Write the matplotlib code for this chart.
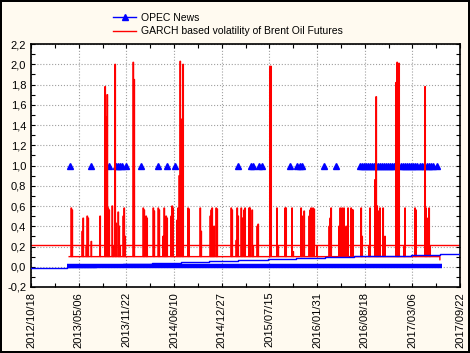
import numpy as np
import pandas as pd
import matplotlib
matplotlib.use("Agg")
import matplotlib.pyplot as plt
from matplotlib.lines import Line2D
from matplotlib.ticker import MultipleLocator, FuncFormatter

plt.rcParams['font.family'] = ['Liberation Sans', 'DejaVu Sans']

start = pd.Timestamp('2012-10-18')

# GARCH volatility spikes: days after start, value (baseline 0.1 otherwise)
spike_days = [168, 172, 214, 218, 231, 235, 239, 252, 289, 310, 314, 319, 323, 327,
              340, 344, 352, 356, 365, 369, 373, 386, 390, 394, 428, 432, 470, 474,
              482, 486, 512, 516, 533, 537, 553, 558, 562, 566, 570, 587, 591, 595,
              612, 616, 621, 625, 633, 637, 658, 662, 709, 713, 751, 755, 759, 763,
              767, 776, 780, 839, 843, 860, 864, 868, 881, 885, 893, 897, 914, 918,
              927, 931, 948, 952, 1002, 1006, 1031, 1036, 1065, 1069, 1094, 1099,
              1132, 1136, 1145, 1166, 1170, 1174, 1178, 1182, 1187, 1191, 1199,
              1250, 1254, 1258, 1291, 1296, 1304, 1312, 1321, 1329, 1342, 1346, 1350,
              1384, 1388, 1417, 1421, 1442, 1447, 1451, 1455, 1463, 1476, 1484,
              1530, 1535, 1539, 1543, 1564, 1568, 1610, 1614, 1652, 1656, 1660,
              1669, 1673]
spike_vals = [0.58, 0.56, 0.35, 0.48, 0.2, 0.5, 0.48, 0.25, 0.5, 1.78, 1.48, 1.70, 0.58, 0.56,
              0.6, 0.2, 2.0, 0.43, 0.54, 0.4, 0.2, 0.5, 0.58, 0.3, 2.02, 1.85, 0.58, 0.56,
              0.5, 0.48, 0.58, 0.55, 0.58, 0.56, 0.3, 0.58, 0.3, 0.5, 0.48, 0.5, 0.6, 0.58,
              0.46, 0.58, 0.9, 2.03, 1.46, 2.0, 0.58, 0.57, 0.58, 0.35, 0.5, 0.56, 0.58, 0.3,
              0.4, 0.58, 0.57, 0.58, 0.56, 0.26, 0.58, 0.5, 0.58, 0.48, 0.56, 0.58, 0.58, 0.58,
              0.56, 0.2, 0.4, 0.42, 1.98, 1.98, 0.58, 0.2, 0.58, 0.58, 0.58, 0.15,
              0.58, 0.5, 0.55, 0.5, 0.56, 0.58, 0.3, 0.58, 0.57, 0.1, 0.2,
              0.4, 0.48, 0.58, 0.4, 0.58, 0.58, 0.58, 0.4, 0.58, 0.58, 0.56, 0.56,
              0.58, 0.3, 0.2, 0.58, 0.86, 1.68, 0.6, 0.55, 0.58, 0.58, 0.3,
              1.82, 2.02, 1.74, 2.01, 0.2, 0.58, 0.58, 0.56, 1.78, 0.58, 0.48,
              0.58, 0.2]
garch_base = 0.1
garch_first, garch_last = 160, 1715
garch_end_val = 0.07
garch_mean = 0.21

# OPEC news days (value 1)
news_days = [164, 252, 327, 356, 365, 373, 382, 398, 461, 533, 570, 604, 868, 922, 931,
             956, 969, 1086, 1115, 1128, 1136, 1229, 1279,
             1380, 1388, 1396, 1405, 1413, 1421, 1430, 1438, 1447, 1455, 1463, 1472,
             1480, 1489, 1497, 1505, 1514, 1522,
             1551, 1560, 1568, 1577, 1585, 1593, 1602, 1610, 1618,
             1631, 1639, 1648, 1660, 1669, 1677, 1686, 1702]
news_zero_span = [151, 1723]

# slow blue step line
trend_days = [0, 151, 273, 386, 507, 629, 746, 868, 994, 1111, 1233, 1354, 1472, 1593, 1715, 1800]
trend_vals = [-0.015, 0.0, 0.015, 0.025, 0.035, 0.044, 0.054, 0.064, 0.072, 0.082, 0.092,
              0.103, 0.11, 0.12, 0.13, 0.13]

# build daily GARCH series
days = np.arange(garch_first, garch_last + 1)
g = pd.Series(garch_base, index=days)
for d, v in zip(spike_days, spike_vals):
    g.loc[d] = v
    g.loc[d + 1] = v
g.loc[garch_last] = garch_end_val
g_dates = start + pd.to_timedelta(g.index, unit='D')

fig = plt.figure(figsize=(4.70, 3.53), dpi=100)
fig.patch.set_facecolor('#fffaf0')
fig.patch.set_edgecolor('black')
fig.patch.set_linewidth(1.5)
ax = fig.add_axes([0.066, 0.187, 0.913, 0.688])
ax.set_facecolor('white')

ax.plot(start + pd.to_timedelta(news_zero_span, unit='D'), [0.004, 0.004],
        color='blue', lw=3.2, solid_capstyle='butt')
ax.plot(start + pd.to_timedelta(trend_days, unit='D'), trend_vals, color='blue',
        lw=1, drawstyle='steps-post', zorder=3)
ax.plot(start + pd.to_timedelta(news_days, unit='D'), np.ones(len(news_days)),
        linestyle='none', marker='^', color='blue', ms=4)
ax.axhline(garch_mean, color='red', lw=1)
ax.plot(g_dates, g.values, color='red', lw=1, drawstyle='steps-post')

x0 = start
x1 = start + pd.Timedelta(days=1800)
ax.set_xlim(x0, x1)
ax.set_ylim(-0.2, 2.2)
major = [start + pd.Timedelta(days=200 * i) for i in range(10)]
minor = [start + pd.Timedelta(days=100 + 200 * i) for i in range(9)]
ax.set_xticks(major)
ax.set_xticks(minor, minor=True)
ax.set_xticklabels([d.strftime('%Y/%m/%d') for d in major], rotation=90, fontsize=8)
ax.yaxis.set_major_locator(MultipleLocator(0.2))
ax.yaxis.set_minor_locator(MultipleLocator(0.1))
ax.yaxis.set_major_formatter(FuncFormatter(lambda v, p: ('%.1f' % v).replace('.', ',').replace('-0,0', '0,0')))
ax.tick_params(axis='y', labelsize=8)
ax.tick_params(which='both', direction='in', top=True, right=True, length=3, width=0.8)
ax.grid(True, which='major', linestyle=':', color='#a0a0a0', lw=0.8)
for s in ax.spines.values():
    s.set_linewidth(1.2)

handles = [Line2D([], [], color='blue', marker='^', ms=4, lw=1),
           Line2D([], [], color='red', lw=1)]
labels = ['OPEC News', 'GARCH based volatility of Brent Oil Futures']
fig.legend(handles, labels, loc='upper left', bbox_to_anchor=(0.225, 0.985), frameon=False,
           fontsize=7.5, handlelength=2.2, handletextpad=0.5, labelspacing=0.35,
           borderaxespad=0.3)

fig.savefig('out.png', dpi=100, facecolor=fig.get_facecolor(), edgecolor='black')
